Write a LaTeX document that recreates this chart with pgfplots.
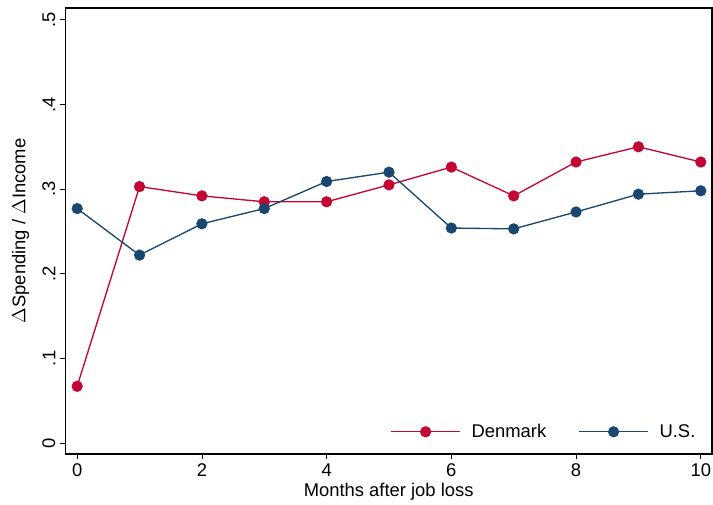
\documentclass[border=0pt]{standalone}
\usepackage{fontspec}
\setmainfont{Liberation Sans}
\usepackage{pgfplots}
\pgfplotsset{compat=1.18}
\definecolor{dk}{RGB}{196,6,52}
\definecolor{us}{RGB}{26,71,111}
\begin{document}
\begin{tikzpicture}
\begin{axis}[
    name=ax,
    scale only axis,
    width=485pt, height=334.5pt,
    xmin=-0.19, xmax=10.18,
    ymin=-0.013, ymax=0.514,
    xtick={0,2,...,10},
    ytick={0,0.1,0.2,0.3,0.4,0.5},
    yticklabels={0,.1,.2,.3,.4,.5},
    yticklabel style={rotate=90, anchor=south},
    tick align=outside,
    tick pos=left,
    major tick length=4pt,
    tick style={black, line width=0.6pt},
    axis line style={line width=0.8pt},
    /pgf/number format/assume math mode=true,
    tick label style={font=\fontsize{13.8}{16}\selectfont},
    label style={font=\fontsize{13.8}{16}\selectfont},
    xlabel={Months after job loss},
    ylabel={$\Delta$Spending / $\Delta$Income},
    xlabel style={yshift=2pt},
    ylabel style={yshift=3pt},
    legend style={draw=none, fill=none, at={(0.985,0.02)}, anchor=south east,
        font=\fontsize{13.8}{16}\selectfont,
        /tikz/every odd column/.append style={column sep=6pt},
        /tikz/every even column/.append style={column sep=22pt}},
    legend columns=2,
    legend image code/.code={
        \draw[#1, mark=none] (0cm,0cm) -- (52pt,0cm);
        \draw[#1, only marks] plot coordinates {(26pt,0cm)};
    },
]
\addplot[dk, line width=1pt, mark=*, mark size=3.7pt] coordinates {
(0,0.067) (1,0.303) (2,0.292) (3,0.285) (4,0.285) (5,0.305) (6,0.326) (7,0.292) (8,0.332) (9,0.350) (10,0.332)};
\addlegendentry{Denmark}
\addplot[us, line width=1pt, mark=*, mark size=3.7pt] coordinates {
(0,0.277) (1,0.222) (2,0.259) (3,0.277) (4,0.309) (5,0.320) (6,0.254) (7,0.253) (8,0.273) (9,0.294) (10,0.298)};
\addlegendentry{U.S.}
\end{axis}
\pgfresetboundingbox
\path (ax.south west) ++(-49pt,-38pt) coordinate (bl);
\path (ax.north east) ++(0.75pt,6pt) coordinate (tr);
\path[use as bounding box] (bl) rectangle (tr);
\end{tikzpicture}
\end{document}
